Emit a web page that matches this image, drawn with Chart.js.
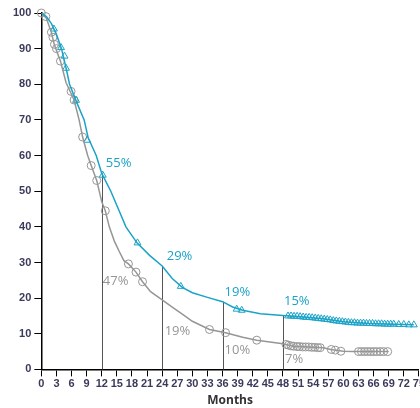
<!DOCTYPE html>
<html>
<head>
<meta charset="utf-8">
<script src="https://cdn.jsdelivr.net/npm/chart.js@4"></script>
<style>
  html, body { margin: 0; padding: 0; background: #fff; overflow: hidden; }
  #wrap { width: 426px; height: 408px; position: relative; }
</style>
</head>
<body>
<div id="wrap"><canvas id="myChart"></canvas></div>
<script>
// curve points [month, % surviving]
const tealCurve = [[0,100],[1,99],[2,97],[3,94],[4,90],[5,84],[5.6,80],[7,75],[8.5,70],[9.3,65],[10.9,60],[12,55],[13.8,50],[15.3,45],[16.8,40],[19,35.5],[21.5,32],[24,29],[26,25.5],[28,23],[30,21.5],[33,20.2],[36,19],[38,17.5],[40,16.6],[43.5,15.6],[48,15.1],[52,14.7],[56,14.2],[60,13.4],[65,12.9],[70,12.7],[74,12.5]];
const greyCurve = [[0,100],[1,98.5],[2,94.5],[2.6,91],[3.8,86.5],[4.9,80.5],[6.5,75.6],[7.5,70],[8.2,65.2],[9.2,60],[9.9,57.2],[11,53],[11.5,50],[12,47],[12.7,44.5],[13.5,40],[14.5,36],[15.5,33],[16.4,30.5],[17.3,29.6],[18.8,27.3],[20.1,24.6],[21.7,21.8],[24,19.5],[26,17.5],[28,15.5],[30,13.5],[33.4,11.2],[36.6,10.3],[40,9],[42.8,8.2],[48,7.2],[50,6.5],[53,6.3],[56,6.1],[57.5,5.6],[60,5.1],[62,5],[69,5]];

// censoring marks
const tealCensor = [[2.5,95.5],[3.9,90.3],[4.6,87.9],[4.9,84.5],[6.9,75.5],[9.1,64.3],[12.2,54.5],[19.1,35.5],[27.7,23.3],[38.8,16.9],[39.8,16.6],
  [49,15],[49.6,15],[50.2,14.9],[50.8,14.9],[51.4,14.8],[52,14.7],[52.6,14.6],[53.2,14.6],[53.8,14.5],[54.4,14.4],[55,14.3],[55.6,14.2],[56.2,14.1],[56.8,14],[57.4,13.9],[58,13.7],[58.6,13.6],[59.2,13.5],[59.8,13.4],[60.4,13.3],[61,13.2],[61.6,13.1],[62.2,13.1],[62.8,13],[63.4,13],[64,13],[64.6,12.9],[65.2,12.9],[65.8,12.9],[66.4,12.8],[67,12.8],[67.6,12.8],[68.2,12.7],[68.8,12.7],[69.4,12.7],[70,12.7],[71,12.6],[72,12.6],[73,12.5],[74,12.5]];
const greyCensor = [[0,100],[0.9,99],[2,94.6],[2.3,93.2],[2.6,91.2],[3,90],[3.8,86.5],[5.9,78],[6.5,75.6],[8.2,65.2],[9.9,57.2],[11,53],[12.7,44.5],[17.3,29.6],[18.8,27.3],[20.1,24.6],[33.4,11.2],[36.6,10.3],[42.8,8.2],
  [48.6,7],[49.1,6.8],[49.6,6.6],[50.1,6.5],[50.8,6.4],[51.3,6.4],[51.9,6.3],[52.5,6.3],[53.1,6.3],[53.7,6.2],[54.3,6.2],[54.9,6.1],[55.4,6.1],[57.6,5.6],[58.4,5.4],[59.5,5.1],[63,5],[63.6,5],[64.2,5],[64.8,5],[65.4,5],[66,5],[66.6,5],[67.3,5],[68,5],[68.8,5]];

// landmark lines and labels
const landmarkMonths = [12, 24, 36, 48];
const landmarkTops = [55, 29, 19, 15];
const tealLabels = ['55%', '29%', '19%', '15%'];
const tealLabelPos = [[12.8, 57.8], [24.9, 31.7], [36.4, 21.5], [48.2, 19]];
const greyLabels = ['47%', '19%', '10%', '7%'];
const greyLabelPos = [[12.2, 24.6], [24.5, 10.8], [36.4, 5.4], [48.4, 2.8]];

const TEAL = 'rgb(27, 163, 199)';
const GREY = 'rgb(150, 150, 150)';
const TICKCOL = '#3a3a5c';

const toXY = arr => arr.map(p => ({x: p[0], y: p[1]}));

const landmarks = {
  id: 'landmarks',
  beforeDatasetsDraw(chart) {
    const {ctx, scales: {x, y}} = chart;
    ctx.save();
    ctx.strokeStyle = '#555';
    ctx.lineWidth = 1;
    landmarkMonths.forEach((m, i) => {
      const px = Math.round(x.getPixelForValue(m)) + 0.5;
      ctx.beginPath();
      ctx.moveTo(px, y.getPixelForValue(landmarkTops[i]));
      ctx.lineTo(px, y.getPixelForValue(0));
      ctx.stroke();
    });
    ctx.restore();
  },
  afterDatasetsDraw(chart) {
    const {ctx, scales: {x, y}} = chart;
    ctx.save();
    ctx.font = '13px "Open Sans", sans-serif';
    ctx.textBaseline = 'middle';
    ctx.textAlign = 'left';
    ctx.fillStyle = TEAL;
    tealLabels.forEach((t, i) => {
      ctx.fillText(t, x.getPixelForValue(tealLabelPos[i][0]), y.getPixelForValue(tealLabelPos[i][1]));
    });
    ctx.fillStyle = GREY;
    greyLabels.forEach((t, i) => {
      ctx.fillText(t, x.getPixelForValue(greyLabelPos[i][0]), y.getPixelForValue(greyLabelPos[i][1]));
    });
    ctx.restore();
  }
};

const ctx = document.getElementById('myChart');
new Chart(ctx, {
  type: 'line',
  data: {
    datasets: [{
      data: toXY(tealCurve),
      borderColor: TEAL,
      borderWidth: 1.5,
      pointRadius: 0,
      tension: 0
    },
    {
      data: toXY(greyCurve),
      borderColor: GREY,
      borderWidth: 1.5,
      pointRadius: 0,
      tension: 0
    },
    {
      data: toXY(tealCensor),
      showLine: false,
      pointStyle: 'triangle',
      pointRadius: 4,
      borderColor: TEAL,
      backgroundColor: 'rgba(0,0,0,0)',
      borderWidth: 1,
      clip: false
    },
    {
      data: toXY(greyCensor),
      showLine: false,
      pointStyle: 'circle',
      pointRadius: 4,
      borderColor: GREY,
      backgroundColor: 'rgba(0,0,0,0)',
      borderWidth: 1,
      clip: false
    }]
  },
  options: {
    responsive: true,
    maintainAspectRatio: false,
    animation: false,
    layout: { padding: { top: 13, left: 10, bottom: 0, right: 0 } },
    plugins: {
      legend: { display: false },
      tooltip: { enabled: false }
    },
    scales: {
      x: {
        type: 'linear',
        min: 0,
        max: 75,
        border: { color: '#000', width: 1.5 },
        grid: { drawOnChartArea: false, drawTicks: true, tickLength: 7, color: '#000' },
        ticks: { stepSize: 3, maxRotation: 0, autoSkip: false, padding: 1, color: TICKCOL, font: { family: 'Liberation Sans', size: 11, weight: 'bold' } },
        title: { display: true, text: 'Months', color: '#333', padding: { top: 2, bottom: 0 }, font: { family: 'Open Sans', size: 12, weight: 'bold' } }
      },
      y: {
        min: 0,
        max: 100,
        border: { color: '#000', width: 1.5 },
        grid: { drawOnChartArea: false, drawTicks: true, tickLength: 7, color: '#000' },
        ticks: { stepSize: 10, padding: 3, color: TICKCOL, font: { family: 'Liberation Sans', size: 11, weight: 'bold' } }
      }
    }
  },
  plugins: [landmarks]
});
</script>
</body>
</html>
